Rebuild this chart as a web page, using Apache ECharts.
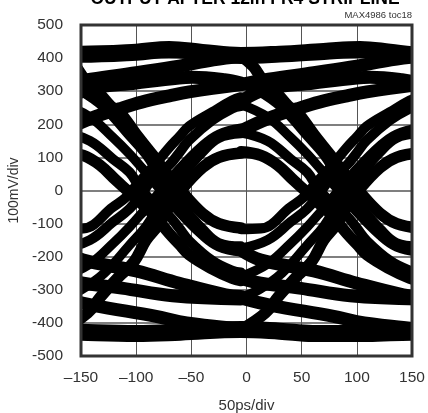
<!DOCTYPE html>
<html><head><meta charset="utf-8">
<style>html,body{margin:0;padding:0;background:#fff}#c{width:428px;height:413px}</style>
<script src="https://cdn.jsdelivr.net/npm/echarts@6/dist/echarts.min.js"></script></head>
<body><div id="c"></div>
<script>
const yTicks=[-500,-400,-300,-200,-100,0,100,200,300,400,500];
const xTicks=[-150,-100,-50,0,50,100,150];
const railTop=[[-170,412],[-150,412],[-100,418],[-70,426],[-40,417],[-5,408],[30,412],[70,420],[103,426],[130,418],[150,410],[170,408]];
const railBottom=[[-170,-425],[-150,-428],[-100,-432],[-60,-428],[-5,-420],[30,-425],[60,-432],[110,-432],[150,-428],[170,-428]];
const rise1A=[[-166,-420],[-144,-370],[-132,-320],[-117,-265],[-102,-215],[-91,-150],[-80,-105],[-70,-50],[-59,2],[-40,69],[-25,100],[-5,113]];
const rise2aA=[[-166,-260],[-142,-222],[-121,-160],[-106,-110],[-94,-65],[-80,-10],[-61,65],[-40,135],[-25,170],[-5,188]];
const rise2bA=[[-166,-322],[-150,-300],[-129,-250],[-106,-165],[-91,-108],[-76,-30],[-61,35],[-40,115],[-25,158],[-5,172]];
const rise3A=[[-166,-175],[-142,-150],[-121,-95],[-106,-55],[-95,-10],[-85,35],[-70,77],[-61,114],[-52,152],[-31,212],[-13,248],[-5,255]];
const rise4A=[[-166,-117],[-148,-115],[-121,-50],[-109,-20],[-100,15],[-85,70],[-70,130],[-61,162],[-52,194],[-31,237],[-13,272],[-5,282]];
const rise1B=[[-5,-420],[17,-370],[29,-320],[44,-265],[59,-215],[70,-150],[81,-105],[91,-50],[102,2],[121,69],[136,100],[156,113]];
const rise2aB=[[-5,-260],[19,-222],[40,-160],[55,-110],[67,-65],[81,-10],[100,65],[121,135],[136,170],[156,188]];
const rise2bB=[[-5,-322],[11,-300],[32,-250],[55,-165],[70,-108],[85,-30],[100,35],[121,115],[136,158],[156,172]];
const rise3B=[[-5,-175],[19,-150],[40,-95],[55,-55],[66,-10],[76,35],[91,77],[100,114],[109,152],[130,212],[148,248],[156,255]];
const rise4B=[[-5,-117],[13,-115],[40,-50],[52,-20],[61,15],[76,70],[91,130],[100,162],[109,194],[130,237],[148,272],[156,282]];
const fall1A=[[-175,412],[-166,405],[-155,375],[-147,338],[-135,300],[-123,255],[-115,237],[-100,170],[-85,107],[-72,50],[-59,-2],[-40,-69],[-25,-100],[-5,-113]];
const fall2aA=[[-166,260],[-142,222],[-121,160],[-106,110],[-94,65],[-80,10],[-61,-65],[-40,-135],[-25,-170],[-5,-185]];
const fall2bA=[[-166,322],[-150,300],[-129,250],[-106,165],[-91,108],[-76,30],[-61,-35],[-40,-115],[-25,-158],[-5,-168]];
const fall3A=[[-166,175],[-142,150],[-121,95],[-106,55],[-97,10],[-85,-35],[-70,-77],[-61,-114],[-52,-152],[-31,-212],[-13,-242],[-5,-248]];
const fall4A=[[-166,117],[-148,106],[-133,77],[-118,30],[-108,0],[-95,-40],[-85,-70],[-70,-130],[-61,-162],[-52,-194],[-31,-237],[-13,-265],[-5,-272]];
const fall1B=[[-14,412],[-5,405],[6,375],[14,338],[26,300],[38,255],[46,237],[61,170],[76,107],[89,50],[102,-2],[121,-69],[136,-100],[156,-113]];
const fall2aB=[[-5,260],[19,222],[40,160],[55,110],[67,65],[81,10],[100,-65],[121,-135],[136,-170],[156,-185]];
const fall2bB=[[-5,322],[11,300],[32,250],[55,165],[70,108],[85,30],[100,-35],[121,-115],[136,-158],[156,-168]];
const fall3B=[[-5,175],[19,150],[40,95],[55,55],[64,10],[76,-35],[91,-77],[100,-114],[109,-152],[130,-212],[148,-242],[156,-248]];
const fall4B=[[-5,117],[13,106],[28,77],[43,30],[53,0],[66,-40],[76,-70],[91,-130],[100,-162],[109,-194],[130,-237],[148,-265],[156,-272]];
const flatC1=[[-166,180],[-141,218],[-115,247],[-95,267],[-70,286],[-52,298],[-5,320]];
const flatC2=[[-5,180],[20,218],[46,247],[66,267],[91,286],[109,298],[156,320]];
const flatHi1=[[-166,320],[-141,336],[-100,356],[-61,376],[-30,395],[-5,405]];
const flatHi2=[[-5,320],[20,336],[61,356],[100,376],[131,395],[156,405]];
const flatMid1=[[-166,270],[-141,308],[-100,325],[-61,340],[-49,342],[-20,335],[-5,325]];
const flatMid2=[[-5,270],[20,308],[61,325],[100,340],[112,342],[141,335],[156,325]];
const lowP1=[[-166,-180],[-148,-210],[-100,-243],[-61,-280],[-19,-315],[-5,-320]];
const lowP2=[[-5,-180],[13,-210],[61,-243],[100,-280],[142,-315],[156,-320]];
const lowQ1=[[-166,-265],[-148,-280],[-113,-295],[-67,-318],[-5,-328]];
const lowQ2=[[-5,-265],[13,-280],[48,-295],[94,-318],[156,-328]];
const lowS1=[[-166,-325],[-139,-347],[-82,-380],[-61,-396],[-19,-414],[-5,-418]];
const lowS2=[[-5,-325],[22,-347],[79,-380],[100,-396],[142,-414],[156,-418]];

const W=10,N=9.5,F=13,A=11.5;
const bands=[[railTop,17],[railBottom,17],
[rise1A,A],[rise2aA,N],[rise2bA,N],[rise3A,W],[rise4A,W],
[rise1B,A],[rise2aB,N],[rise2bB,N],[rise3B,W],[rise4B,W],
[fall1A,A],[fall2aA,N],[fall2bA,N],[fall3A,W],[fall4A,A],
[fall1B,A],[fall2aB,N],[fall2bB,N],[fall3B,W],[fall4B,A],
[flatC1,F],[flatC2,F],[flatHi1,F],[flatHi2,F],[flatMid1,F],[flatMid2,F],
[lowP1,F],[lowP2,F],[lowQ1,F],[lowQ2,F],[lowS1,F],[lowS2,F]];
const FONT='"Liberation Sans",sans-serif';
const chart=echarts.init(document.getElementById('c'),null,{renderer:'canvas'});
chart.setOption({
  animation:false,backgroundColor:'#fff',
  title:[
   {text:'OUTPUT AFTER 12in FR4 STRIPLINE',left:245,textAlign:'center',top:-10,padding:0,textStyle:{fontFamily:FONT,fontWeight:'bold',fontSize:17.5,color:'#000'}},
   {text:'MAX4986 toc18',right:16,top:10,padding:0,textStyle:{fontFamily:FONT,fontWeight:'normal',fontSize:9.5,color:'#333'}}
  ],
  graphic:[
   {type:'rect',z:50,silent:true,shape:{x:66,y:14,width:15,height:352},style:{fill:'#fff'}},
   {type:'rect',z:50,silent:true,shape:{x:412,y:20,width:16,height:345},style:{fill:'#fff'}},
   {type:'rect',z:51,silent:true,shape:{x:81,y:25,width:331,height:331},style:{fill:'none',stroke:'#333',lineWidth:3}}
  ],
  grid:{left:81,right:16,top:25,bottom:57,show:true,borderWidth:0,backgroundColor:'#fff',outerBoundsMode:'none'},
  xAxis:{type:'value',min:xTicks[0],max:xTicks[xTicks.length-1],interval:50,
    name:'50ps/div',nameLocation:'middle',nameGap:42,nameTextStyle:{fontFamily:FONT,fontSize:15,color:'#333'},
    axisLine:{show:false},axisTick:{show:false},
    axisLabel:{fontFamily:FONT,fontSize:15.5,color:'#333',margin:14,formatter:v=>v<0?'\u2013'+(-v):''+v},
    splitLine:{show:true,lineStyle:{color:'#555',width:1}}},
  yAxis:{type:'value',min:yTicks[0],max:yTicks[yTicks.length-1],interval:100,
    name:'100mV/div',nameLocation:'middle',nameGap:52,nameTextStyle:{fontFamily:FONT,fontSize:14,color:'#333'},
    axisLine:{show:false},axisTick:{show:false},
    axisLabel:{fontFamily:FONT,fontSize:15.5,color:'#333',margin:18},
    splitLine:{show:true,lineStyle:{color:'#555',width:1.5}}},
  series:bands.map(b=>({type:'line',data:b[0],smooth:0.4,symbol:'none',clip:true,
    lineStyle:{color:'#000',width:b[1],cap:'round',join:'round'}}))
});
</script></body></html>
